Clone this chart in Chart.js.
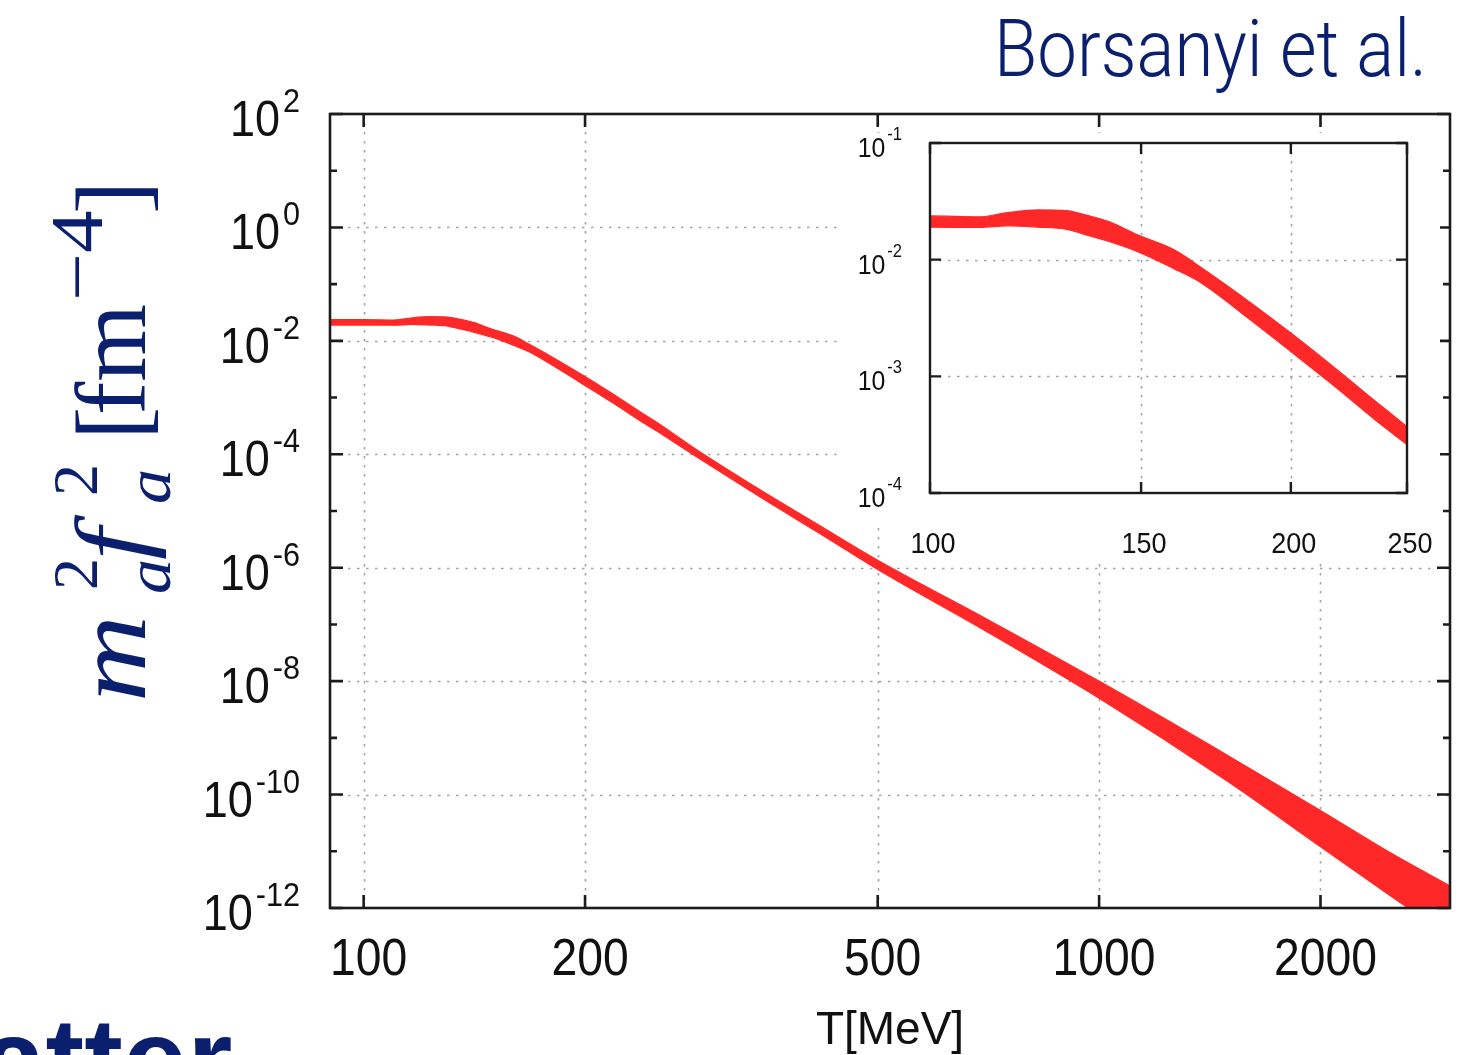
<!DOCTYPE html>
<html>
<head>
<meta charset="utf-8">
<title>Axion mass band vs temperature</title>
<script src="https://cdn.jsdelivr.net/npm/chart.js@4.4.1/dist/chart.umd.min.js"></script>
<style>
  html, body { margin: 0; padding: 0; background: #fff; overflow: hidden; }
  #wrap { position: relative; width: 1471px; height: 1055px; }
  #main { position: absolute; left: 0; top: 0; }
  #inset { position: absolute; left: 842px; top: 125px; }
</style>
</head>
<body>
<div id="wrap">
  <canvas id="main" width="1471" height="1055"></canvas>
  <canvas id="inset" width="598" height="435"></canvas>
</div>
<script>
// temperature points (MeV) and the upper / lower edge of the m_a^2 f_a^2 band (fm^-4)
const temps = [90, 100, 110, 116, 123, 130, 135, 141, 149, 160, 168, 185, 200, 217, 239, 250,
  280, 346, 426, 500, 700, 1000, 1500, 2000, 2500, 3000];
const bandUpper = [0.0237, 0.0237, 0.0233, 0.0253, 0.0267, 0.0263, 0.0241, 0.0212, 0.0163, 0.0121,
  0.0087, 0.0043, 0.00235, 0.00121, 0.000537, 0.000370,
  1.35e-4, 2.37e-5, 4.68e-6, 1.35e-6, 1.29e-7, 1.0e-8, 4.8e-10, 5.25e-11, 9.1e-12, 2.45e-12];
const bandLower = [0.0190, 0.0190, 0.0189, 0.0195, 0.0190, 0.0182, 0.0163, 0.0143, 0.0117, 0.0083,
  0.0064, 0.00305, 0.00163, 0.00084, 0.000371, 0.000260,
  1.0e-4, 1.76e-5, 3.39e-6, 9.3e-7, 7.76e-8, 5.0e-9, 1.66e-10, 1.2e-11, 1.58e-12, 3.1e-13];

// axis ticks
const mainXTicks = [100, 200, 500, 1000, 2000];
const mainYExps = [2, 0, -2, -4, -6, -8, -10, -12];
const mainYMinorExps = [1, -1, -3, -5, -7, -9, -11];
const insetXTicks = [100, 150, 200, 250];
const insetYExps = [-1, -2, -3, -4];

const RED = 'rgb(255, 40, 40)';
const BLUE = '#0b1f6f';
const INK = '#1c1c1c';
const SANS = '"Liberation Sans", Arial, Helvetica, sans-serif';
const SERIF = '"Liberation Serif", "DejaVu Serif", serif';

function bandDatasets() {
  const pts = vals => temps.map((t, i) => ({ x: t, y: vals[i] }));
  const common = { borderColor: RED, backgroundColor: RED, borderWidth: 1.2, pointRadius: 0, cubicInterpolationMode: 'monotone' };
  return [
    { ...common, data: pts(bandUpper), fill: false },
    { ...common, data: pts(bandLower), fill: '-1' }
  ];
}

// text squeezed horizontally, like the narrow plot font
function squeezed(ctx, text, x, y, sx, align) {
  const w = ctx.measureText(text).width * sx;
  const x0 = align === 'center' ? x - w / 2 : align === 'right' ? x - w : x;
  ctx.save();
  ctx.translate(x0, y);
  ctx.scale(sx, 1);
  ctx.textAlign = 'left';
  ctx.fillText(text, 0, 0);
  ctx.restore();
  return w;
}

// "10" with a raised exponent, right aligned at xRight
function powerLabel(ctx, exp, xRight, yTick, o) {
  const e = String(exp);
  ctx.font = `${o.expSize}px ${SANS}`;
  const we = ctx.measureText(e).width * o.sx;
  squeezed(ctx, e, xRight - we, yTick + o.expDy, o.sx, 'left');
  ctx.font = `${o.baseSize}px ${SANS}`;
  squeezed(ctx, '10', xRight - we - o.gap, yTick + o.baseDy, o.sx, 'right');
}

function drawGrid(chart, xs, ys) {
  const { ctx, chartArea: a, scales: { x, y } } = chart;
  ctx.save();
  ctx.strokeStyle = '#a4a4a4';
  ctx.lineWidth = 1.6;
  ctx.setLineDash([2.5, 6.5]);
  ctx.beginPath();
  xs.forEach(v => {
    const px = Math.round(x.getPixelForValue(v)) + 0.5;
    ctx.moveTo(px, a.top); ctx.lineTo(px, a.bottom);
  });
  ys.forEach(v => {
    const py = Math.round(y.getPixelForValue(v)) + 0.5;
    ctx.moveTo(a.left, py); ctx.lineTo(a.right, py);
  });
  ctx.stroke();
  ctx.restore();
}

function drawFrame(chart, xs, ysMajor, ysMinor, major, minor, width) {
  const { ctx, chartArea: a, scales: { x, y } } = chart;
  ctx.save();
  ctx.strokeStyle = INK;
  ctx.lineWidth = width;
  ctx.setLineDash([]);
  ctx.beginPath();
  xs.forEach(v => {
    const px = x.getPixelForValue(v);
    ctx.moveTo(px, a.bottom); ctx.lineTo(px, a.bottom - major);
    ctx.moveTo(px, a.top); ctx.lineTo(px, a.top + major);
  });
  const yTick = (v, len) => {
    const py = y.getPixelForValue(v);
    ctx.moveTo(a.left, py); ctx.lineTo(a.left + len, py);
    ctx.moveTo(a.right, py); ctx.lineTo(a.right - len, py);
  };
  ysMajor.forEach(v => yTick(v, major));
  ysMinor.forEach(v => yTick(v, minor));
  ctx.stroke();
  ctx.strokeRect(a.left, a.top, a.width, a.height);
  ctx.restore();
}

// m_a^2 f_a^2 [fm^-4], typeset along a rotated baseline
function drawYLabel(ctx, xBase, yStart) {
  const it = s => `italic ${s}px ${SERIF}`;
  const rm = s => `${s}px ${SERIF}`;
  const put = (t, font, u, lift, sx) => {
    ctx.save();
    ctx.font = font;
    ctx.translate(u, -lift);
    ctx.scale(sx, 1);
    ctx.fillText(t, 0, 0);
    ctx.restore();
  };
  ctx.save();
  ctx.translate(xBase, yStart);
  ctx.rotate(-Math.PI / 2);
  ctx.fillStyle = BLUE;
  ctx.textAlign = 'left';
  ctx.textBaseline = 'alphabetic';
  put('m', it(102), 0, 0, 1.18);
  put('2', rm(64), 112, 48, 1);
  put('a', it(64), 108, -25, 1.1);
  put('f', it(100), 142, 0, 1.15);
  put('2', rm(64), 206, 48, 1);
  put('a', it(64), 198, -25, 1.1);
  put('[', rm(100), 262, 0, 1);
  put('fm', rm(100), 287, 0, 1);
  put('\u22124', rm(74), 401, 43, 1.15);
  put(']', rm(100), 488, 0, 1);
  ctx.restore();
}

function fitText(ctx, text, x, y, width) {
  const w = ctx.measureText(text).width;
  ctx.save();
  ctx.translate(x, y);
  ctx.scale(width / w, 1);
  ctx.fillText(text, 0, 0);
  ctx.restore();
}

const mainDecor = {
  id: 'mainDecor',
  beforeDatasetsDraw(chart) {
    drawGrid(chart, mainXTicks, mainYExps.slice(1, -1).map(e => Math.pow(10, e)));
  },
  afterDatasetsDraw(chart) {
    const { ctx, scales: { x, y } } = chart;
    drawFrame(chart, mainXTicks, mainYExps.map(e => Math.pow(10, e)),
      mainYMinorExps.map(e => Math.pow(10, e)), 13, 7, 2.6);

    ctx.save();
    ctx.fillStyle = '#111';
    ctx.textBaseline = 'alphabetic';
    ctx.font = `52px ${SANS}`;
    mainXTicks.forEach(v => squeezed(ctx, String(v), x.getPixelForValue(v) + 5, 975, 0.89, 'center'));
    mainYExps.forEach(e => powerLabel(ctx, e, 300, y.getPixelForValue(Math.pow(10, e)),
      { baseSize: 50, expSize: 34, sx: 0.9, gap: 3, baseDy: 22, expDy: -2 }));

    ctx.font = `46px ${SANS}`;
    ctx.textAlign = 'center';
    ctx.fillText('T[MeV]', (chart.chartArea.left + chart.chartArea.right) / 2, 1044);

    ctx.textAlign = 'left';
    ctx.fillStyle = BLUE;
    ctx.font = `300 79px Roboto, ${SANS}`;
    fitText(ctx, 'Borsanyi et al.', 994, 76, 433);
    ctx.font = `bold 116px ${SANS}`;
    ctx.fillText('atter', -19, 1100);
    ctx.restore();

    drawYLabel(ctx, 145, 702);
  }
};

const insetDecor = {
  id: 'insetDecor',
  beforeDraw(chart) {
    // opaque backing behind the inset box and its labels
    const ctx = chart.ctx;
    ctx.save();
    ctx.fillStyle = '#fff';
    ctx.beginPath();
    ctx.moveTo(0, 8); ctx.lineTo(598, 8); ctx.lineTo(598, 435);
    ctx.lineTo(58, 435); ctx.lineTo(58, 400); ctx.lineTo(0, 400);
    ctx.closePath();
    ctx.fill();
    ctx.restore();
  },
  beforeDatasetsDraw(chart) {
    drawGrid(chart, insetXTicks.slice(1, -1), insetYExps.slice(1, -1).map(e => Math.pow(10, e)));
  },
  afterDatasetsDraw(chart) {
    const { ctx, scales: { x, y } } = chart;
    drawFrame(chart, insetXTicks, insetYExps.map(e => Math.pow(10, e)), [], 11, 0, 2.4);
    ctx.save();
    ctx.fillStyle = '#111';
    ctx.textBaseline = 'alphabetic';
    ctx.font = `29px ${SANS}`;
    insetXTicks.forEach(v => squeezed(ctx, String(v), x.getPixelForValue(v) + 3, 428, 0.93, 'center'));
    insetYExps.forEach(e => powerLabel(ctx, e, 60, y.getPixelForValue(Math.pow(10, e)),
      { baseSize: 27, expSize: 18, sx: 0.92, gap: 2, baseDy: 14, expDy: -3 }));
    ctx.restore();
  }
};

function makeChart(id, padding, xRange, yRange, plugin) {
  return new Chart(document.getElementById(id), {
    type: 'line',
    data: { datasets: bandDatasets() },
    options: {
      responsive: false,
      animation: false,
      events: [],
      layout: { padding },
      plugins: { legend: { display: false }, tooltip: { enabled: false } },
      scales: {
        x: { type: 'logarithmic', min: xRange[0], max: xRange[1], display: false },
        y: { type: 'logarithmic', min: yRange[0], max: yRange[1], display: false }
      }
    },
    plugins: [plugin]
  });
}

makeChart('main', { left: 330, top: 114, right: 21, bottom: 147 }, [90, 3000], [1e-12, 1e2], mainDecor);
makeChart('inset', { left: 88, top: 18, right: 33, bottom: 67 }, [100, 250], [1e-4, 1e-1], insetDecor);
</script>
</body>
</html>
